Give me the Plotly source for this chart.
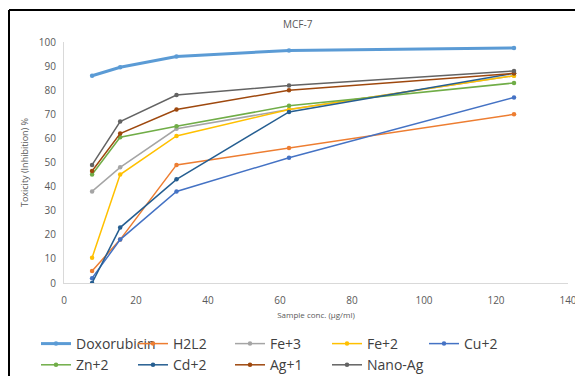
import plotly.graph_objects as go

conc = [7.8, 15.6, 31.25, 62.5, 125]
series_names = ["Doxorubicin", "H2L2", "Fe+3", "Fe+2", "Cu+2", "Zn+2", "Cd+2", "Ag+1", "Nano-Ag"]
doxorubicin = [86, 89.5, 94, 96.5, 97.5]
h2l2 = [5, 18, 49, 56, 70]
fe3 = [38, 48, 64, 72, 86]
fe2 = [10.5, 45, 61, 72, 86]
cu2 = [2, 18, 38, 52, 77]
zn2 = [45, 60.5, 65, 73.5, 83]
cd2 = [0, 23, 43, 71, 87]
ag1 = [46.5, 62, 72, 80, 87]
nano_ag = [49, 67, 78, 82, 88]
values = [doxorubicin, h2l2, fe3, fe2, cu2, zn2, cd2, ag1, nano_ag]
colors = ["#5B9BD5", "#ED7D31", "#A5A5A5", "#FFC000", "#4472C4", "#70AD47", "#255E91", "#9E480E", "#636363"]
widths = [3, 1.5, 1.5, 1.5, 1.5, 1.5, 1.5, 1.5, 1.5]

# page body has an 8px default margin, so the figure is drawn 8px smaller
W, H = 575, 368

fig = go.Figure()
for name, vals, c, w in zip(series_names, values, colors, widths):
    fig.add_trace(go.Scatter(x=conc, y=vals, name=name, mode="lines+markers",
                             line=dict(color=c, width=w),
                             marker=dict(color=c, size=4.5, symbol="circle")))

px_x = lambda p: (p - 56) / 504
px_y = lambda p: (275 - p) / 241

fig.update_layout(
    width=W, height=H,
    margin=dict(l=56, r=15, t=34, b=93, autoexpand=False),
    plot_bgcolor="white", paper_bgcolor="white",
    font=dict(family="Open Sans, Liberation Sans, sans-serif", color="#595959"),
    title=dict(text="MCF-7", x=275 / W, xanchor="left", y=1 - 16 / H, yanchor="middle",
               font=dict(size=10, color="#595959")),
    xaxis=dict(range=[0, 140], dtick=20, showgrid=False, zeroline=False, automargin=False,
               showline=True, linecolor="#D9D9D9", linewidth=1, ticks="", ticklabelstandoff=8,
               tickfont=dict(size=10, color="#595959"),
               title=dict(text="Sample conc. (µg/ml)", font=dict(size=8, color="#595959"), standoff=6)),
    yaxis=dict(range=[0, 100], dtick=10, showgrid=False, zeroline=False, automargin=False,
               showline=True, linecolor="#D9D9D9", linewidth=1, ticks="", ticklabelstandoff=5,
               tickfont=dict(size=10, color="#595959"),
               title=dict(text="Toxicity (Inhibition) %", font=dict(size=9, color="#595959"), standoff=8)),
    showlegend=True,
    legend=dict(orientation="h", xref="container", yref="container",
                x=28 / W, xanchor="left", y=1 - 320 / H, yanchor="top",
                font=dict(size=14, color="#404040"), entrywidth=52, entrywidthmode="pixels",
                tracegroupgap=0, itemwidth=30, bgcolor="rgba(0,0,0,0)"),
    shapes=[
        dict(type="line", xref="paper", yref="paper",
             x0=px_x(1), x1=px_x(W), y0=px_y(2), y1=px_y(2),
             line=dict(color="black", width=2), layer="below"),
        dict(type="line", xref="paper", yref="paper",
             x0=px_x(1), x1=px_x(1), y0=px_y(2), y1=px_y(H),
             line=dict(color="black", width=2), layer="below"),
    ],
)

fig.write_html("out.html", post_script="document.body.style.overflow='hidden';")
